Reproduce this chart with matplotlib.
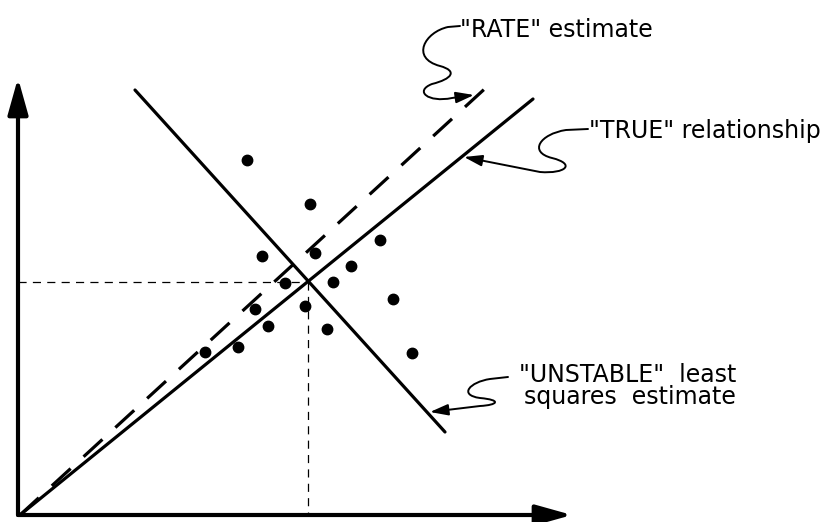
import matplotlib.pyplot as plt
from matplotlib.patches import FancyArrowPatch
from matplotlib.path import Path

# diagram units: x to the right, y downwards (same scale as the 833x522 picture)
origin = (18, 515)
x_axis_end = 572
y_axis_end = 78

# mean point where the dotted guides meet
mean_x = 308
mean_y = 282

# the three lines
true_x = [20, 533]
true_y = [515, 99]
rate_x = [20, 490]
rate_y = [515, 84]
ls_x = [135, 445]
ls_y = [90, 432]

# observed points
pts_x = [247, 310, 380, 262, 315, 351, 333, 285, 393, 305, 255, 268, 327, 238, 205, 412]
pts_y = [160, 204, 240, 256, 253, 266, 282, 283, 299, 306, 309, 326, 329, 347, 352, 353]

labels = ['"RATE" estimate', '"TRUE" relationship', '"UNSTABLE"  least', 'squares  estimate']

f = plt.figure(figsize=(8.33, 5.22), dpi=100)
ax = f.add_axes([0, 0, 1, 1])
ax.set_xlim(0, 833)
ax.set_ylim(522, 0)
ax.axis('off')

# axes with arrow heads
axis_arrow = dict(arrowstyle='-|>,head_length=1.0,head_width=0.28', lw=3, color='k',
                  shrinkA=0, shrinkB=0, mutation_scale=22)
ax.annotate('', xy=(origin[0], y_axis_end), xytext=origin, arrowprops=axis_arrow)
ax.annotate('', xy=(x_axis_end, origin[1]), xytext=origin, arrowprops=axis_arrow)

# dotted guides to the mean
ax.plot([origin[0], mean_x], [mean_y, mean_y], color='k', lw=0.9, dashes=(6.5, 5))
ax.plot([mean_x, mean_x], [mean_y, origin[1]], color='k', lw=0.9, dashes=(6.5, 5))

ax.plot(true_x, true_y, color='k', lw=2.3, solid_capstyle='round')
ax.plot(rate_x, rate_y, color='k', lw=2.3, dashes=(8, 5.5))
ax.plot(ls_x, ls_y, color='k', lw=2.3, solid_capstyle='round')

ax.plot(pts_x, pts_y, 'o', color='k', ms=7.5)

# wiggly pointers from the labels
M, L, C = Path.MOVETO, Path.LINETO, Path.CURVE4
squiggles = [
    ([(460, 26), (448, 27), (425, 32), (410, 58), (440, 66), (458, 71), (452, 79), (432, 84),
      (414, 91), (428, 103), (452, 98), (474, 95)],
     [M, L, C, C, C, C, C, C, C, C, C, L]),
    ([(588, 129), (566, 130), (540, 134), (528, 152), (552, 158), (576, 164), (566, 174), (540, 172),
      (464, 157)],
     [M, L, C, C, C, C, C, C, L]),
    ([(508, 377), (490, 379), (470, 382), (458, 395), (480, 398), (502, 400), (498, 405), (480, 406),
      (430, 412)],
     [M, L, C, C, C, C, C, C, L]),
]
for verts, codes in squiggles:
    ax.add_patch(FancyArrowPatch(path=Path(verts, codes),
                                 arrowstyle='-|>,head_length=0.55,head_width=0.17',
                                 mutation_scale=20, lw=1.4, color='k'))

fs = 17
ax.text(460, 37, labels[0], fontsize=fs, va='baseline', ha='left')
ax.text(589, 138, labels[1], fontsize=fs, va='baseline', ha='left')
ax.text(736, 382, labels[2], fontsize=fs, va='baseline', ha='right')
ax.text(736, 404, labels[3], fontsize=fs, va='baseline', ha='right')

f.savefig('out.png', dpi=100)
